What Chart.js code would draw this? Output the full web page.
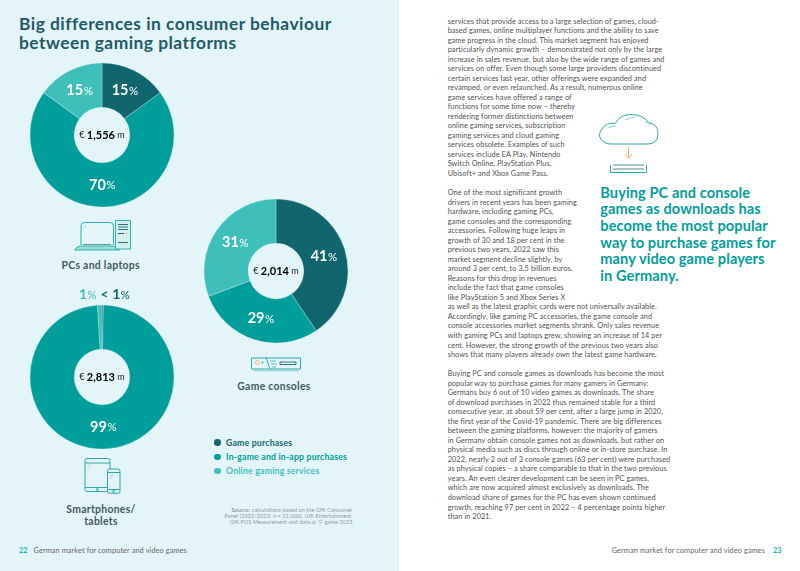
<!DOCTYPE html>
<html>
<head>
<meta charset="utf-8">
<script src="https://cdn.jsdelivr.net/npm/chart.js@4"></script>
<style>
  html, body { margin: 0; padding: 0; background: #fff; }
  #page { position: relative; width: 800px; height: 571px; overflow: hidden; font-family: Lato, sans-serif; }
  #panel { position: absolute; left: 0; top: 0; width: 399px; height: 571px; background: #e3f5f9; }
  #page canvas { position: absolute; }
  #page svg { position: absolute; left: 0; top: 0; }
  .txt { position: absolute; white-space: pre; }
  .title { left: 19px; top: 14px; font-size: 17.4px; line-height: 19.2px; font-weight: 700; color: #1f5a66; letter-spacing: 0.47px; }
  .cap { font-size: 10.4px; line-height: 12px; font-weight: 700; color: #44595f; text-align: center; letter-spacing: 0.3px; transform: translateX(-50%); }
  .top-label { left: 104.5px; top: 285px; font-size: 14px; line-height: 18px; font-weight: 700; transform: translateX(-50%); letter-spacing: 0.2px; }
  .top-label small { font-size: 11.5px; font-weight: 400; }
  .legend-item { left: 226px; font-size: 8.7px; line-height: 10px; font-weight: 700; letter-spacing: 0.2px; }
  .dot { position: absolute; left: 214px; width: 6.6px; height: 6.6px; border-radius: 50%; }
  .source { right: 447.5px; font-size: 5.4px; line-height: 6.3px; text-align: right; color: #8d9a9e; letter-spacing: 0.13px; }
  .body { left: 447.7px; font-size: 7.3px; line-height: 9.53px; color: #505050; letter-spacing: 0.09px; }
  .callout { left: 600.3px; top: 184.8px; font-size: 14.6px; line-height: 16.67px; font-weight: 700; color: #009e9b; letter-spacing: 0.08px; }
  .foot { top: 545.6px; font-size: 7.3px; line-height: 9px; color: #666; letter-spacing: 0.12px; }
  .foot b { color: #19b3ad; }
</style>
</head>
<body>
<div id="page">
  <div id="panel"></div>
  <div class="txt title">Big differences in consumer behaviour
between gaming platforms</div>

  <canvas id="pcChart" width="148" height="148" style="left:28.3px;top:61.3px"></canvas>
  <canvas id="mobileChart" width="148" height="148" style="left:28.3px;top:302.7px"></canvas>
  <canvas id="consoleChart" width="148" height="148" style="left:201.8px;top:196.5px"></canvas>

  <div class="txt cap" style="left:100.7px;top:259px">PCs and laptops</div>
  <div class="txt cap" style="left:274px;top:380px">Game consoles</div>
  <div class="txt cap" style="left:101px;top:503px">Smartphones/
tablets</div>

  <div class="txt top-label"><span style="color:#3fbfb9">1<small>%</small></span> <span style="color:#11666e">&lt; 1<small>%</small></span></div>

  <div id="legend"></div>

  <div class="txt source" style="top:506.5px"><b>Source:</b> <span>calculations based on the GfK Consumer</span></div>
  <div class="txt source" style="top:512.8px">Panel (2022/2023; n = 25,000), GfK Entertainment,</div>
  <div class="txt source" style="top:519.1px">GfK POS Measurement and data.ai. © game 2023</div>

  <div class="txt foot" style="left:19px"><b>22</b></div>
  <div class="txt foot" style="left:33.5px">German market for computer and video games</div>
  <div class="txt foot" style="left:611.7px">German market for computer and video games</div>
  <div class="txt foot" style="left:773px"><b>23</b></div>

  <div class="txt body" style="top:16.5px">services that provide access to a large selection of games, cloud-
based games, online multiplayer functions and the ability to save
game progress in the cloud. This market segment has enjoyed
particularly dynamic growth – demonstrated not only by the large
increase in sales revenue, but also by the wide range of games and
services on offer. Even though some large providers discontinued
certain services last year, other offerings were expanded and
revamped, or even relaunched. As a result, numerous online</div>
  <div class="txt body" style="top:92.74px">game services have offered a range of
functions for some time now – thereby
rendering former distinctions between
online gaming services, subscription
gaming services and cloud gaming
services obsolete. Examples of such
services include EA Play, Nintendo
Switch Online, PlayStation Plus,
Ubisoft+ and Xbox Game Pass.

One of the most significant growth
drivers in recent years has been gaming
hardware, including gaming PCs,
game consoles and the corresponding
accessories. Following huge leaps in
growth of 30 and 18 per cent in the
previous two years, 2022 saw this
market segment decline slightly, by
around 3 per cent, to 3.5 billion euros.
Reasons for this drop in revenues
include the fact that game consoles
like PlayStation 5 and Xbox Series X</div>
  <div class="txt body" style="top:302.4px">as well as the latest graphic cards were not universally available.
Accordingly, like gaming PC accessories, the game console and
console accessories market segments shrank. Only sales revenue
with gaming PCs and laptops grew, showing an increase of 14 per
cent. However, the strong growth of the previous two years also
shows that many players already own the latest game hardware.

Buying PC and console games as downloads has become the most
popular way to purchase games for many gamers in Germany:
Germans buy 6 out of 10 video games as downloads. The share
of download purchases in 2022 thus remained stable for a third
consecutive year, at about 59 per cent, after a large jump in 2020,
the first year of the Covid-19 pandemic. There are big differences
between the gaming platforms, however: the majority of gamers
in Germany obtain console games not as downloads, but rather on
physical media such as discs through online or in-store purchase. In
2022, nearly 2 out of 3 console games (63 per cent) were purchased
as physical copies – a share comparable to that in the two previous
years. An even clearer development can be seen in PC games,
which are now acquired almost exclusively as downloads. The
download share of games for the PC has even shown continued
growth, reaching 97 per cent in 2022 – 4 percentage points higher
than in 2021.</div>

  <div class="txt callout">Buying PC and console
games as downloads has
become the most popular
way to purchase games for
many video game players
in Germany.</div>

  <svg width="800" height="571" fill="none" stroke-linejoin="round">
    <!-- laptop and tower -->
    <g stroke="#2fb1ad" stroke-width="1">
      <path d="M81 245V226q0-3.500 3.500-3.500H110q3.500 0 3.500 3.500V245" />
      <path d="M84 226.500l-1.500 2M86 225.500l-1.500 2" stroke="#9fdcd8" />
      <path d="M74.500 250q2-3.500 6-4H113.500q4 .5 6 4z" fill="#9fdcd8" />
      <rect x="115.500" y="220.500" width="15" height="28.500" fill="#d5f0ef" />
      <path d="M83 244.500H111" stroke="#5a9aa0" />
      <path d="M118 224.500h10M118 227h10M118 229.500h10M118 233.500h6M118 242.500h10" stroke="#2d6f78" />
    </g>
    <circle cx="126.300" cy="233.500" r="1" fill="#f5b27a" />
    <!-- tablet and phone -->
    <g stroke="#2fa9a8" stroke-width="1">
      <rect x="85" y="458.500" width="25" height="33" rx="2" fill="#e3f5f9" />
      <path d="M85 463H110M85 487.500H110" />
      <path d="M88 466.500l3-3M88 468.500l3-3" stroke="#9fdcd8" />
      <rect x="107.500" y="469" width="12.500" height="24.300" rx="2" fill="#e3f5f9" />
      <path d="M107.500 472.500H120M107.500 489.500H120" />
      <path d="M110 477l3-3M110 479l3-3" stroke="#9fdcd8" />
      <circle cx="97.300" cy="489.500" r="1" />
      <circle cx="113.700" cy="491.300" r="1" />
    </g>
    <!-- console -->
    <g stroke="#2fa9a8" stroke-width="1">
      <path d="M251.500 358H300.500V369H251.500z" fill="#e3f5f9" />
      <path d="M253.500 370.500H299" stroke="#9fd6d4" stroke-width="1.500" />
      <path d="M266 357.500L270 369" />
      <path d="M270 361h6M271 364h6M272 367h4" stroke="#55c3be" />
      <rect x="280" y="362" width="16" height="2.500" stroke="#2d6f78" />
    </g>
    <circle cx="257.500" cy="362.500" r="2" stroke="#f5b27a" />
    <circle cx="262.500" cy="362.500" r="1" fill="#55a7ae" />
    <!-- cloud and download arrow -->
    <g stroke="#2fa9a8" stroke-width="1">
      <path d="M610 144H648q10 0 10-10.500Q658 124 648.500 122.500Q643 114.500 631 114.500Q620 114.500 615 123.500Q606 122 602 129Q596 137 604 142Q607 144 610 144z" />
      <path d="M625 120q6-3 10-3M608 128q4-2 8-2M645 122q3 0 6 3" stroke="#8dd3d0" />
      <path d="M610.500 165V172.500H646.500V165" />
      <path d="M613 165H644M613 169H644" stroke="#4c8d96" stroke-width="1.200" />
    </g>
    <path d="M628.500 147V157M625 154L628.500 158L632 154" stroke="#f5a96a" />
  </svg>
</div>

<script>
// Data
const categories = ["Game purchases", "In-game and in-app purchases", "Online gaming services"];
const pcValues = [15, 70, 15];
const consoleValues = [41, 29, 31];
const mobileValues = [0.3, 99, 1];
const pcLabels = ["15", "70", "15"];
const consoleLabels = ["41", "29", "31"];
const mobileLabels = [null, "99", null];
const pcTotal = "1,556";
const consoleTotal = "2,014";
const mobileTotal = "2,813";
const colors = ["#11666e", "#009e9b", "#3fbfb9"];

const fontFamily = "Lato, sans-serif";

// Legend
const legendEl = document.getElementById("legend");
categories.forEach((name, i) => {
  const y = 442.7 + i * 14.2;
  const dot = document.createElement("div");
  dot.className = "dot";
  dot.style.top = (y - 3.3) + "px";
  dot.style.background = colors[i];
  legendEl.appendChild(dot);
  const item = document.createElement("div");
  item.className = "txt legend-item";
  item.style.top = (y - 5) + "px";
  item.style.color = colors[i];
  item.textContent = name;
  legendEl.appendChild(item);
});

// Percent labels on the arcs and the total in the hole
const donutText = {
  id: "donutText",
  afterDatasetsDraw(chart, args, opts) {
    const c = chart.ctx;
    const arcs = chart.getDatasetMeta(0).data;
    c.save();
    c.textBaseline = "middle";
    c.textAlign = "left";
    arcs.forEach((arc, i) => {
      const label = opts.labels[i];
      if (!label) return;
      const p = arc.tooltipPosition();
      c.font = "700 14.5px " + fontFamily;
      const w1 = c.measureText(label).width;
      c.font = "400 11.5px " + fontFamily;
      const w2 = c.measureText("%").width;
      const x = p.x - (w1 + w2) / 2;
      c.fillStyle = "#fff";
      c.font = "700 14.5px " + fontFamily;
      c.fillText(label, x, p.y);
      c.font = "400 11.5px " + fontFamily;
      c.fillText("%", x + w1 + 0.5, p.y + 0.5);
    });

    const cx = arcs[0].x;
    const cy = arcs[0].y;
    c.fillStyle = "#222";
    c.font = "400 9px " + fontFamily;
    const euro = "€ ";
    const unit = " m";
    const wE = c.measureText(euro).width;
    const wU = c.measureText(unit).width;
    c.font = "700 11px " + fontFamily;
    const wT = c.measureText(opts.total).width;
    let x = cx - (wE + wT + wU) / 2;
    c.font = "400 9px " + fontFamily;
    c.fillText(euro, x, cy + 0.5);
    x += wE;
    c.font = "700 11px " + fontFamily;
    c.fillStyle = "#000";
    c.fillText(opts.total, x, cy);
    x += wT;
    c.font = "400 9px " + fontFamily;
    c.fillStyle = "#222";
    c.fillText(unit, x, cy + 0.5);
    c.restore();
  },
};

function makeDonut(id, values, labels, total) {
  new Chart(document.getElementById(id), {
    type: "doughnut",
    data: {
      labels: categories,
      datasets: [
        {
          data: values,
          backgroundColor: colors,
          borderColor: "#e3f5f9",
          borderWidth: 0.3,
        },
      ],
    },
    options: {
      responsive: false,
      animation: false,
      radius: 72,
      cutout: 28.5,
      layout: { padding: 0 },
      plugins: {
        legend: { display: false },
        tooltip: { enabled: false },
        donutText: { labels: labels, total: total },
      },
    },
    plugins: [donutText],
  });
}

makeDonut("pcChart", pcValues, pcLabels, pcTotal);
makeDonut("mobileChart", mobileValues, mobileLabels, mobileTotal);
makeDonut("consoleChart", consoleValues, consoleLabels, consoleTotal);
</script>
</body>
</html>
